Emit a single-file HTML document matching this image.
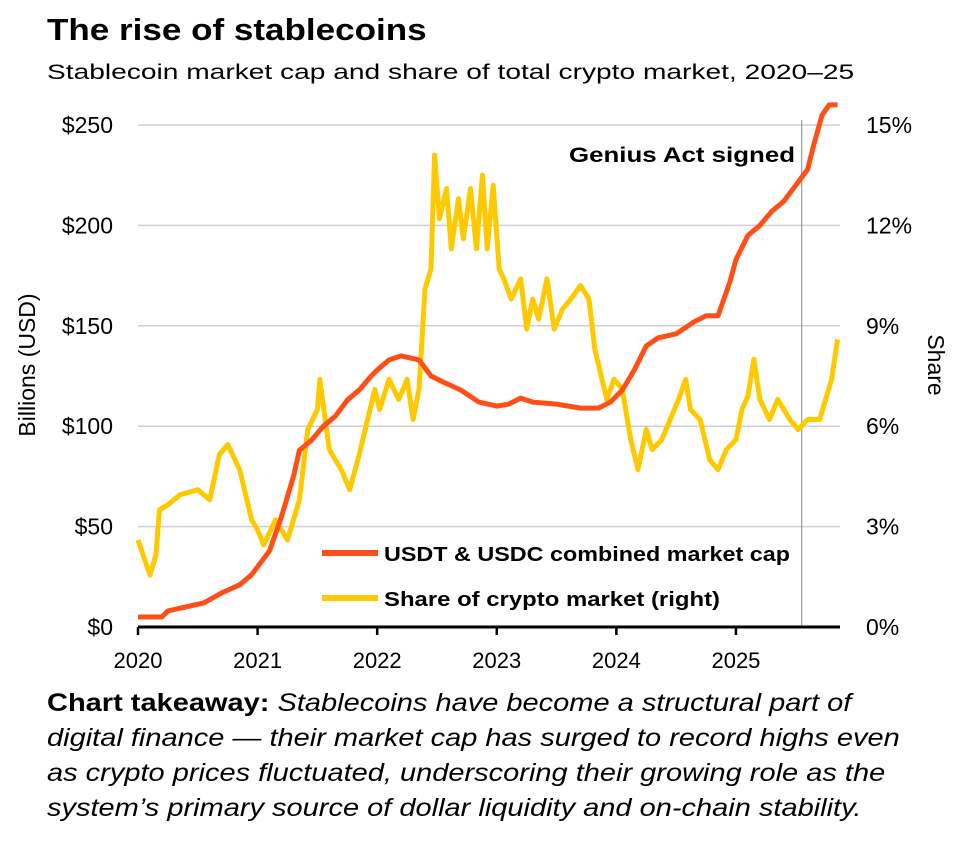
<!DOCTYPE html>
<html><head><meta charset="utf-8"><style>
body{margin:0;background:#fff;width:979px;height:841px;overflow:hidden;font-family:"Liberation Sans",sans-serif;}
.t{position:absolute;white-space:nowrap;color:#000;transform-origin:0 0}
</style></head><body>
<div class="t" style="left:47px;top:12px;font-size:31px;font-weight:bold;transform:scaleX(1.13)">The rise of stablecoins</div>
<div class="t" style="left:47px;top:61px;font-size:21px;transform:scaleX(1.34)">Stablecoin market cap and share of total crypto market, 2020–25</div>
<svg id="chart" width="979" height="700" style="position:absolute;left:0;top:0" font-family="Liberation Sans, sans-serif"></svg>
<div class="t" style="left:47px;top:686px;font-size:25px;line-height:35px;font-style:italic;transform:scaleX(1.16)"><b style="font-style:normal">Chart takeaway:</b> Stablecoins have become a structural part of<br>digital finance — their market cap has surged to record highs even<br>as crypto prices fluctuated, underscoring their growing role as the<br>system’s primary source of dollar liquidity and on-chain stability.</div>
<script>
const years=[2020,2021,2022,2023,2024,2025];
const leftTicks=[0,50,100,150,200,250];
const leftLabels=["$0","$50","$100","$150","$200","$250"];
const rightTicks=[0,3,6,9,12,15];
const rightLabels=["0%","3%","6%","9%","12%","15%"];
const capT=[2020,2020.2,2020.25,2020.4,2020.55,2020.7,2020.85,2020.95,2021,2021.1,2021.2,2021.3,2021.35,2021.45,2021.55,2021.65,2021.75,2021.85,2021.95,2022,2022.1,2022.2,2022.35,2022.45,2022.55,2022.7,2022.85,2023,2023.1,2023.2,2023.3,2023.5,2023.7,2023.85,2023.95,2024.05,2024.15,2024.25,2024.35,2024.5,2024.65,2024.75,2024.85,2024.95,2025,2025.1,2025.2,2025.3,2025.4,2025.5,2025.6,2025.65,2025.72,2025.78,2025.85];
const capV=[5,5,8,10,12,17,21,26,30,38,55,75,88,93,100,105,113,118,125,128,133,135,133,125,122,118,112,110,111,114,112,111,109,109,112,118,128,140,144,146,152,155,155,172,183,195,200,207,212,220,228,240,255,260,260];
const shareT=[2020,2020.1,2020.15,2020.18,2020.25,2020.35,2020.5,2020.6,2020.68,2020.75,2020.85,2020.95,2021,2021.05,2021.15,2021.25,2021.35,2021.42,2021.5,2021.52,2021.6,2021.7,2021.77,2021.85,2021.9,2021.98,2022.02,2022.1,2022.18,2022.25,2022.3,2022.35,2022.4,2022.45,2022.48,2022.52,2022.58,2022.62,2022.68,2022.72,2022.78,2022.83,2022.88,2022.92,2022.97,2023.02,2023.06,2023.12,2023.2,2023.25,2023.3,2023.35,2023.42,2023.48,2023.55,2023.62,2023.7,2023.77,2023.82,2023.88,2023.92,2023.98,2024.05,2024.12,2024.18,2024.25,2024.3,2024.38,2024.45,2024.52,2024.58,2024.62,2024.7,2024.78,2024.85,2024.92,2025,2025.05,2025.1,2025.15,2025.2,2025.28,2025.35,2025.45,2025.52,2025.6,2025.7,2025.75,2025.8,2025.85];
const shareV=[2.6,1.55,2.15,3.5,3.65,3.95,4.1,3.8,5.15,5.45,4.7,3.2,2.9,2.45,3.2,2.6,3.8,5.9,6.5,7.4,5.3,4.7,4.1,5.15,5.9,7.1,6.5,7.4,6.8,7.4,6.2,7.1,10.1,10.7,14.1,12.2,13.1,11.3,12.8,11.6,13.1,11.3,13.5,11.3,13.2,10.7,10.4,9.8,10.4,8.9,9.8,9.2,10.4,8.9,9.5,9.8,10.2,9.8,8.3,7.4,6.8,7.4,7.1,5.6,4.7,5.9,5.3,5.6,6.2,6.8,7.4,6.5,6.2,5.0,4.7,5.3,5.6,6.5,6.9,8.0,6.8,6.2,6.8,6.2,5.9,6.2,6.2,6.8,7.4,8.6];
const geniusDate=2025.55;
const X0=138,X1=840,Y0=627,Y1=125,T0=2020,T1=2025.87;
const x=t=>X0+(t-T0)/(T1-T0)*(X1-X0);
const yL=v=>Y0-v/250*(Y0-Y1);
const yR=v=>Y0-v/15*(Y0-Y1);
const svg=document.getElementById('chart');const NS='http://www.w3.org/2000/svg';
function mk(tag,attrs,txt){const e=document.createElementNS(NS,tag);for(const k in attrs)e.setAttribute(k,attrs[k]);if(txt!=null)e.textContent=txt;svg.appendChild(e);return e;}
leftTicks.forEach((v,i)=>{
 if(v>0){const g=mk('line',{x1:X0,x2:X1,y1:yL(v),y2:yL(v),stroke:'#cfcfd6','stroke-width':1.5});
 
 }
 const l=mk('text',{x:113,y:yL(v)+8,'text-anchor':'end','font-size':23},leftLabels[i]);
 
 
});
rightTicks.forEach((v,i)=>{
 const l=mk('text',{x:866,y:yR(v)+8,'font-size':23},rightLabels[i]);
 
 
});
const vl=mk('line',{x1:x(geniusDate),x2:x(geniusDate),y1:Y1-5,y2:Y0,stroke:'#888','stroke-width':1});


const ga=mk('text',{x:569,y:162,'font-size':21,'font-weight':'bold',textLength:226,lengthAdjust:'spacingAndGlyphs'},'Genius Act signed');


const sp=mk('path',{d:shareT.map((t,i)=>(i?'L':'M')+x(t).toFixed(1)+','+yR(shareV[i]).toFixed(1)).join(''),fill:'none',stroke:'#ffc900','stroke-width':5,'stroke-linejoin':'round'});


const cp=mk('path',{d:capT.map((t,i)=>(i?'L':'M')+x(t).toFixed(1)+','+yL(capV[i]).toFixed(1)).join(''),fill:'none',stroke:'#ff4f17','stroke-width':5,'stroke-linejoin':'round'});


const ax=mk('line',{x1:X0,x2:X1,y1:Y0,y2:Y0,stroke:'#000','stroke-width':3});


years.forEach(yr=>{
 const tk=mk('line',{x1:x(yr),x2:x(yr),y1:Y0,y2:Y0+8,stroke:'#000','stroke-width':2.5});
 
 
 const l=mk('text',{x:x(yr),y:668,'text-anchor':'middle','font-size':22},String(yr));
 
 
});
const l1=mk('line',{x1:322,x2:378,y1:553,y2:553,stroke:'#ff4f17','stroke-width':6});


const t1=mk('text',{x:384,y:561,'font-size':20,'font-weight':'bold',textLength:406,lengthAdjust:'spacingAndGlyphs'},'USDT & USDC combined market cap');


const l2=mk('line',{x1:322,x2:378,y1:598,y2:598,stroke:'#ffc900','stroke-width':6});


const t2=mk('text',{x:384,y:606,'font-size':20,'font-weight':'bold',textLength:336,lengthAdjust:'spacingAndGlyphs'},'Share of crypto market (right)');


const ya=mk('text',{x:0,y:0,'font-size':23,'text-anchor':'middle',transform:'translate(35,365) rotate(-90)'},'Billions (USD)');


const yb=mk('text',{x:0,y:0,'font-size':23,'text-anchor':'middle',transform:'translate(928,365) rotate(90)'},'Share');


</script>
</body></html>
